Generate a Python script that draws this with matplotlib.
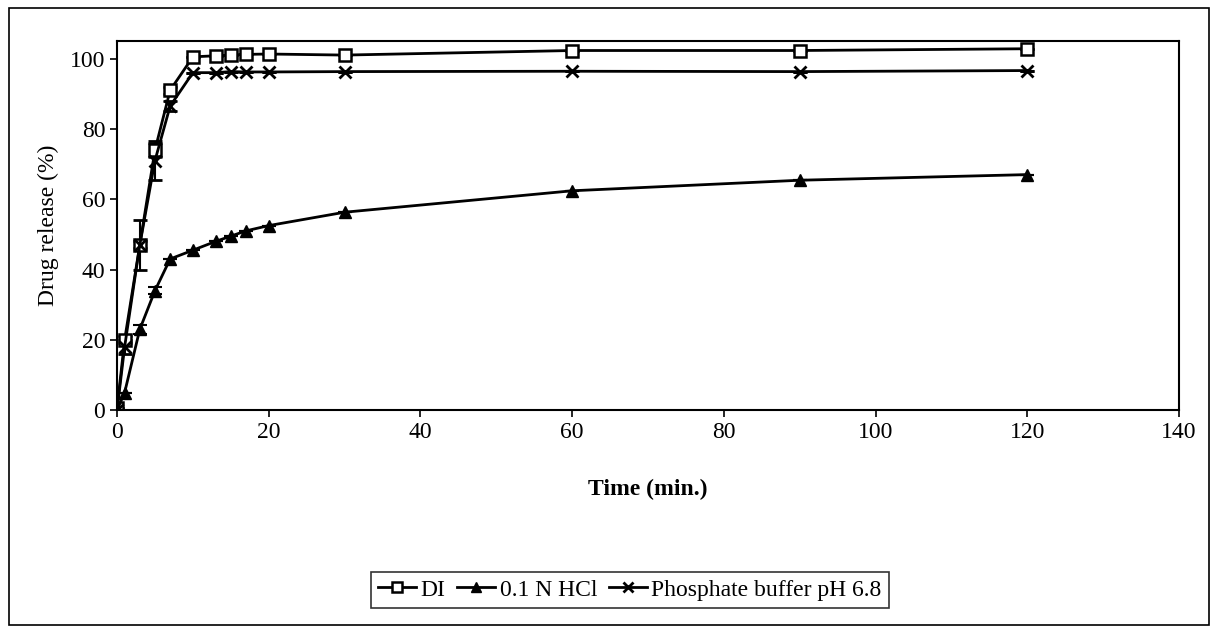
import matplotlib
matplotlib.use("Agg")
import matplotlib.pyplot as plt
from matplotlib.patches import Rectangle
from matplotlib.lines import Line2D

time_min = [0, 1, 3, 5, 7, 10, 13, 15, 17, 20, 30, 60, 90, 120]
di = [0.5, 20, 47, 74, 91, 100.5, 100.8, 101, 101.2, 101.3, 101, 102.3, 102.3, 102.8]
di_err = [0, 1, 1, 2, 1, 0, 0, 0, 0, 0, 0, 0, 0, 0]
hcl = [0, 5, 23, 34, 43, 45.5, 48, 49.5, 51, 52.5, 56.3, 62.4, 65.4, 67]
hcl_err = [0, 0, 1.2, 1, 0, 0, 0, 0, 0, 0, 0, 0, 0, 0]
phos = [0, 18, 47, 71, 86.5, 96, 96, 96.3, 96.2, 96.2, 96.3, 96.4, 96.3, 96.6]
phos_err = [0, 2, 7, 5.5, 1.5, 0, 0, 0, 0, 0, 0, 0, 0, 0]
labels = ["DI", "0.1 N HCl", "Phosphate buffer pH 6.8"]

plt.rcParams['font.family'] = ['Liberation Serif', 'DejaVu Serif']
fig = plt.figure(figsize=(12.18, 6.31), dpi=100)
ax = fig.add_axes([0.0961, 0.350, 0.8719, 0.585])

kw = dict(color='black', lw=2, capsize=5, elinewidth=1.5, capthick=1.5)
ax.errorbar(time_min, di, yerr=di_err, marker='s', ms=8, mfc='white', mec='black', mew=1.8, **kw)
ax.errorbar(time_min, hcl, yerr=hcl_err, marker='^', ms=8, mfc='black', mec='black', **kw)
ax.errorbar(time_min, phos, yerr=phos_err, marker='x', ms=8, mew=2, **kw)

ax.set_xlim(0, 140)
ax.set_ylim(0, 105)
ax.set_xticks(range(0, 141, 20))
ax.set_yticks(range(0, 101, 20))
ax.tick_params(direction='out', length=5, width=1.2, labelsize=17, colors='black')
for s in ax.spines.values():
    s.set_linewidth(1.5)
ax.set_xlabel("Time (min.)", fontsize=17, fontweight='bold', labelpad=26)
ax.set_ylabel("Drug release (%)", fontsize=17, labelpad=8)

handles = [
    Line2D([], [], color='black', lw=2, marker='s', ms=7, mfc='white', mec='black', mew=1.8),
    Line2D([], [], color='black', lw=2, marker='^', ms=7, mfc='black', mec='black'),
    Line2D([], [], color='black', lw=2, marker='x', ms=7, mew=2),
]
leg = fig.legend(handles, labels, loc='center', bbox_to_anchor=(0.517, 0.065), ncol=3,
                 frameon=True, fancybox=False, edgecolor='black',
                 prop={'size': 17}, handlelength=1.6, handletextpad=0.2,
                 columnspacing=0.5, borderpad=0.3, borderaxespad=0.2)
leg.get_frame().set_linewidth(1.2)

fig.patches.append(Rectangle((0.007, 0.01), 0.986, 0.978, transform=fig.transFigure,
                             fill=False, edgecolor='black', lw=1.2))
fig.savefig("out.png", dpi=100)
